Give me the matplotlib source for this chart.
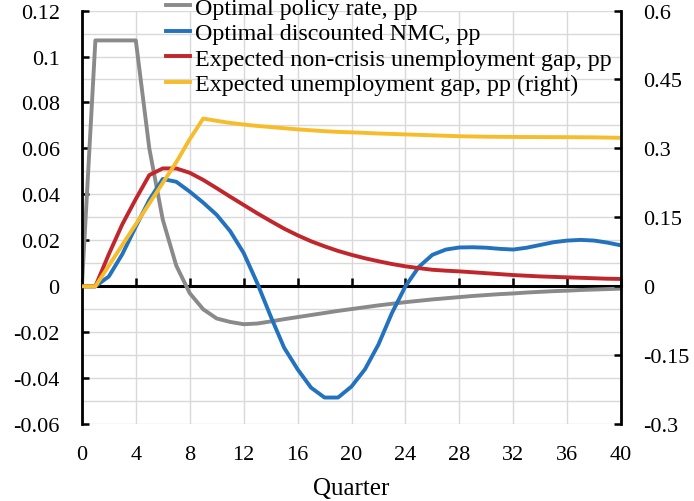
import matplotlib
matplotlib.use('Agg')
import matplotlib.pyplot as plt
from matplotlib.ticker import MultipleLocator

plt.rcParams['font.family'] = ['Liberation Serif', 'DejaVu Serif']
plt.rcParams['font.size'] = 16

quarters = list(range(41))

policy_rate = [0, 0.107, 0.107, 0.107, 0.107, 0.060, 0.029, 0.009, -0.003, -0.010,
               -0.014, -0.0155, -0.0165, -0.0162, -0.0153, -0.0143, -0.0134, -0.0125, -0.0116, -0.0107,
               -0.0099, -0.0091, -0.0083, -0.0076, -0.0069, -0.0063, -0.0057, -0.0052, -0.0047, -0.0042,
               -0.0038, -0.0034, -0.0031, -0.0027, -0.0024, -0.0021, -0.0019, -0.0016, -0.0014, -0.0012,
               -0.0010]

nmc = [0, 0, 0.0043, 0.014, 0.026, 0.0376, 0.0467, 0.0455, 0.0412, 0.0364,
       0.0311, 0.0240, 0.0145, 0.0015, -0.013, -0.0267, -0.0361, -0.0441, -0.0484, -0.0484,
       -0.0436, -0.0361, -0.0253, -0.0116, 0.0, 0.0085, 0.0137, 0.0160, 0.0169, 0.0170,
       0.0168, 0.0163, 0.0160, 0.0168, 0.0180, 0.0192, 0.0199, 0.0202, 0.0199, 0.0190,
       0.0178]

noncrisis_gap = [0, 0, 0.014, 0.027, 0.038, 0.0484, 0.0513, 0.0513, 0.0494, 0.0463,
                 0.0427, 0.0390, 0.0354, 0.0318, 0.0284, 0.0251, 0.0222, 0.0196, 0.0174, 0.0154,
                 0.0137, 0.0122, 0.0109, 0.0097, 0.0087, 0.0079, 0.0072, 0.0068, 0.0065, 0.0061,
                 0.0057, 0.0053, 0.0049, 0.0046, 0.0043, 0.0041, 0.0039, 0.0037, 0.0035, 0.0033,
                 0.0032]

unemp_gap = [0, 0, 0.045, 0.09, 0.135, 0.18, 0.225, 0.27, 0.32, 0.365,
             0.360, 0.3555, 0.352, 0.349, 0.3465, 0.344, 0.3415, 0.3395, 0.3375, 0.336,
             0.335, 0.3338, 0.3325, 0.3315, 0.3305, 0.3295, 0.3285, 0.3275, 0.3265, 0.326,
             0.3255, 0.3252, 0.325, 0.3248, 0.3247, 0.3246, 0.3245, 0.3243, 0.3241, 0.3236,
             0.323]

labels = ['Optimal policy rate, pp', 'Optimal discounted NMC, pp',
          'Expected non-crisis unemployment gap, pp', 'Expected unemployment gap, pp (right)']
colors = ['#8a8a8a', '#2272bd', '#c0272d', '#f7bc2b']

fig = plt.figure(figsize=(6.94, 5.02), dpi=100)
ax = fig.add_axes([0.118, 0.153, 0.777, 0.824])
ax.set_axisbelow(True)

l1, = ax.plot(quarters, policy_rate, color=colors[0], lw=2.8, label=labels[0])
l2, = ax.plot(quarters, nmc, color=colors[1], lw=2.8, label=labels[1])
l3, = ax.plot(quarters, noncrisis_gap, color=colors[2], lw=2.8, label=labels[2])

ax.set_xlim(0, 40)
ax.set_ylim(-0.06, 0.12)
ax.xaxis.set_major_locator(MultipleLocator(4))
ax.yaxis.set_minor_locator(MultipleLocator(0.01))
ax.set_yticks([-0.06, -0.04, -0.02, 0, 0.02, 0.04, 0.06, 0.08, 0.1, 0.12])
ax.set_yticklabels(['-0.06', '-0.04', '-0.02', '0', '0.02', '0.04', '0.06', '0.08', '0.1', '0.12'])
ax.grid(True, which='both', axis='y', color='#d9d9d9', lw=1)
ax.grid(True, which='major', axis='x', color='#d9d9d9', lw=1)
ax.tick_params(axis='x', length=0, pad=15)
ax.tick_params(axis='y', which='major', direction='in', length=5, width=1.8, pad=16)
ax.tick_params(axis='y', which='minor', length=0)
for s in ['top', 'right', 'bottom']:
    ax.spines[s].set_visible(False)
ax.spines['left'].set_linewidth(2)
ax.set_xlabel('Quarter', fontsize=18, labelpad=9)

# zero line with upward ticks
sec = ax.secondary_xaxis(1 / 3)
sec.set_zorder(1)
sec.xaxis.set_major_locator(MultipleLocator(4))
sec.tick_params(axis='x', direction='in', length=6, width=1.8, labelbottom=False)
sec.spines['bottom'].set_linewidth(2.2)

ax2 = ax.twinx()
l4, = ax2.plot(quarters, unemp_gap, color=colors[3], lw=2.8, label=labels[3])
ax2.set_ylim(-0.3, 0.6)
ax2.set_yticks([-0.3, -0.15, 0, 0.15, 0.3, 0.45, 0.6])
ax2.set_yticklabels(['-0.3', '-0.15', '0', '0.15', '0.3', '0.45', '0.6'])
ax2.tick_params(axis='y', direction='in', length=5, width=1.8, pad=16)
for s in ['top', 'left', 'bottom']:
    ax2.spines[s].set_visible(False)
ax2.spines['right'].set_linewidth(2)

ax2.legend(handles=[l1, l2, l3, l4], loc='upper left', bbox_to_anchor=(0.222, 1.028),
           bbox_transform=fig.transFigure, frameon=False, borderpad=0, labelspacing=0.15,
           handlelength=1.0, handletextpad=0.2, fontsize=17.3)

fig.savefig('out.png', dpi=100)
